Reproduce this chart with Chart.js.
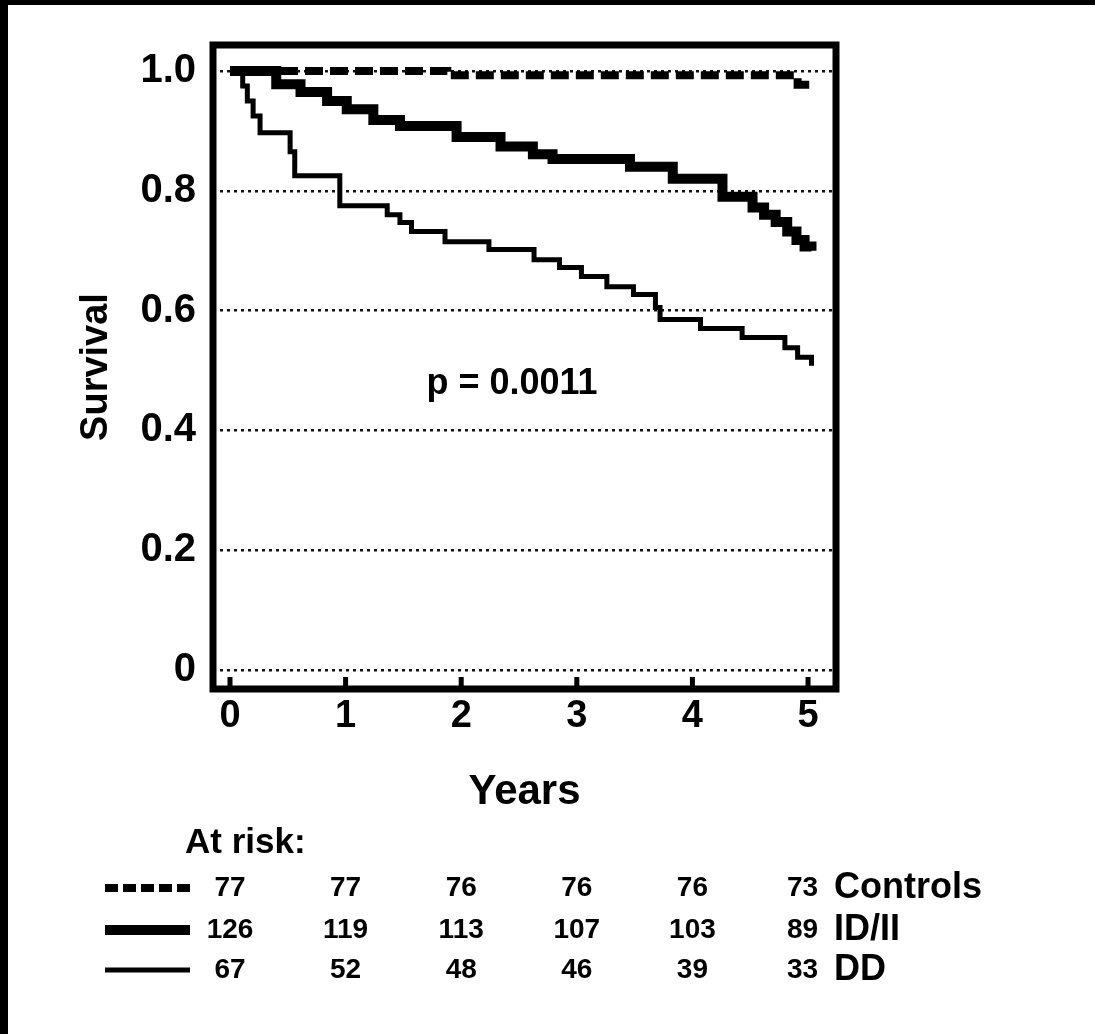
<!DOCTYPE html>
<html><head><meta charset="utf-8">
<script src="https://cdn.jsdelivr.net/npm/chart.js@4.4.1/dist/chart.umd.min.js"></script>
<style>
html,body{margin:0;padding:0;background:#fff;overflow:hidden;}
canvas{display:block;}
</style></head><body>
<canvas id="c" width="1095" height="1034"></canvas>
<script>
// ---- data ----
const yearTicks = [0, 1, 2, 3, 4, 5];
const survivalTicks = [0, 0.2, 0.4, 0.6, 0.8, 1.0];
const survivalTickLabels = ['0', '0.2', '0.4', '0.6', '0.8', '1.0'];

const controlsTime = [0, 1.88, 4.91, 5.03];
const controlsSurv = [1.0, 0.993, 0.977, 0.977];

const idiiTime = [0, 0.40, 0.61, 0.84, 1.01, 1.24, 1.47, 1.96, 2.34, 2.62, 2.79, 3.46, 3.83, 4.26, 4.52, 4.62, 4.72, 4.82, 4.90, 4.97, 5.03];
const idiiSurv = [1.0, 0.978, 0.965, 0.950, 0.936, 0.918, 0.908, 0.890, 0.874, 0.861, 0.853, 0.840, 0.820, 0.790, 0.772, 0.760, 0.748, 0.732, 0.718, 0.707, 0.700];

const ddTime = [0, 0.11, 0.15, 0.20, 0.26, 0.52, 0.56, 0.95, 1.36, 1.47, 1.57, 1.86, 2.24, 2.63, 2.85, 3.04, 3.26, 3.49, 3.68, 3.72, 4.07, 4.43, 4.80, 4.91, 5.03];
const ddSurv = [1.0, 0.975, 0.950, 0.925, 0.897, 0.865, 0.825, 0.775, 0.760, 0.747, 0.732, 0.715, 0.702, 0.685, 0.672, 0.657, 0.640, 0.627, 0.605, 0.585, 0.570, 0.555, 0.538, 0.522, 0.508];

const groupNames = ['Controls', 'ID/II', 'DD'];
const atRiskControls = [77, 77, 76, 76, 76, 73];
const atRiskIDII = [126, 119, 113, 107, 103, 89];
const atRiskDD = [67, 52, 48, 46, 39, 33];
const atRiskTitle = 'At risk:';
const pValueText = 'p = 0.0011';
const pValuePos = {x: 2.44, y: 0.477};
const xTitle = 'Years';
const yTitle = 'Survival';

// ---- styles ----
const FONT = "'Liberation Sans', Arial, Helvetica, sans-serif";
const groupStyles = [
  {width: 8, dash: [18, 7]},
  {width: 10, dash: []},
  {width: 5, dash: []}
];
const atRisk = [atRiskControls, atRiskIDII, atRiskDD];

function pts(t, s) { return t.map((v, i) => ({x: v, y: s[i]})); }

const decor = {
  id: 'decor',
  beforeDraw(chart) {
    const ctx = chart.ctx;
    ctx.save();
    ctx.fillStyle = '#fff';
    ctx.fillRect(0, 0, chart.width, chart.height);
    ctx.fillStyle = '#000';
    ctx.fillRect(0, 0, chart.width, 5);
    ctx.fillRect(0, 0, 8, chart.height);
    ctx.restore();
  },
  afterDraw(chart) {
    const ctx = chart.ctx;
    const a = chart.chartArea;
    const xs = chart.scales.x, ys = chart.scales.y;
    ctx.save();
    // frame
    ctx.strokeStyle = '#000';
    ctx.lineWidth = 7;
    ctx.strokeRect(a.left, a.top, a.right - a.left, a.bottom - a.top);
    // inward tick marks on the x axis
    ctx.fillStyle = '#000';
    yearTicks.forEach(v => {
      const px = xs.getPixelForValue(v);
      ctx.fillRect(px - 2.5, a.bottom - 12, 5, 12);
    });
    // p value
    ctx.font = 'bold 36px ' + FONT;
    ctx.textAlign = 'center';
    ctx.textBaseline = 'middle';
    ctx.fillText(pValueText, xs.getPixelForValue(pValuePos.x), ys.getPixelForValue(pValuePos.y));
    // at-risk table
    ctx.textAlign = 'left';
    ctx.font = 'bold 35px ' + FONT;
    ctx.fillText(atRiskTitle, 185, 843);
    const rowY = [888, 930, 970];
    groupNames.forEach((g, r) => {
      const y = rowY[r];
      const st = groupStyles[r];
      ctx.beginPath();
      ctx.lineWidth = st.width;
      ctx.setLineDash(st.dash.length ? [13, 5] : []);
      ctx.moveTo(105, y);
      ctx.lineTo(190, y);
      ctx.stroke();
      ctx.setLineDash([]);
      ctx.font = 'bold 28px ' + FONT;
      ctx.textAlign = 'center';
      atRisk[r].forEach((n, i) => {
        const px = xs.getPixelForValue(yearTicks[i]);
        if (i === atRisk[r].length - 1) {
          ctx.textAlign = 'right';
          ctx.fillText(String(n), px + 10, y);
          ctx.textAlign = 'center';
        } else {
          ctx.fillText(String(n), px, y);
        }
      });
      ctx.font = 'bold 36px ' + FONT;
      ctx.textAlign = 'left';
      ctx.fillText(g, 834, y);
    });
    ctx.restore();
  }
};

new Chart(document.getElementById('c'), {
  type: 'line',
  data: {
    datasets: [
      {label: groupNames[0], data: pts(controlsTime, controlsSurv)},
      {label: groupNames[1], data: pts(idiiTime, idiiSurv)},
      {label: groupNames[2], data: pts(ddTime, ddSurv)}
    ].map((d, i) => Object.assign(d, {
      borderColor: '#000', backgroundColor: '#000',
      borderWidth: groupStyles[i].width, borderDash: groupStyles[i].dash,
      stepped: true, pointRadius: 0, fill: false, tension: 0,
      borderCapStyle: 'butt', borderJoinStyle: 'miter'
    }))
  },
  options: {
    responsive: false, animation: false, devicePixelRatio: 1,
    layout: {padding: {left: 0, right: 259, top: 45, bottom: 216}},
    plugins: {legend: {display: false}, tooltip: {enabled: false}},
    scales: {
      x: {
        type: 'linear', min: -0.147, max: 5.242,
        afterBuildTicks: s => { s.ticks = yearTicks.map(v => ({value: v})); },
        afterFit: s => { s.height = 129; },
        grid: {display: false, drawTicks: false},
        border: {display: false},
        ticks: {color: '#000', padding: 5, maxRotation: 0, autoSkip: false,
                font: {family: FONT, weight: 'bold', size: 38}},
        title: {display: true, text: xTitle, color: '#000', padding: {top: 0, bottom: 0},
                font: {family: FONT, weight: 'bold', size: 42}}
      },
      y: {
        type: 'linear', min: -0.0317, max: 1.0434,
        afterBuildTicks: s => { s.ticks = survivalTicks.map(v => ({value: v})); },
        afterFit: s => { s.width = 213; },
        grid: {display: true, drawTicks: false, color: '#111', lineWidth: 2.5},
        border: {display: false, dash: [3, 4]},
        ticks: {color: '#000', padding: 17, autoSkip: false,
                font: {family: FONT, weight: 'bold', size: 40}},
        title: {display: true, text: yTitle, color: '#000', padding: {top: 74, bottom: 0},
                font: {family: FONT, weight: 'bold', size: 38}}
      }
    }
  },
  plugins: [decor]
});
// y tick label text from the named array
Chart.getChart('c').options.scales.y.ticks.callback = v => {
  const i = survivalTicks.findIndex(t => Math.abs(t - v) < 1e-6);
  return i >= 0 ? survivalTickLabels[i] : '';
};
Chart.getChart('c').update('none');
</script>
</body></html>
